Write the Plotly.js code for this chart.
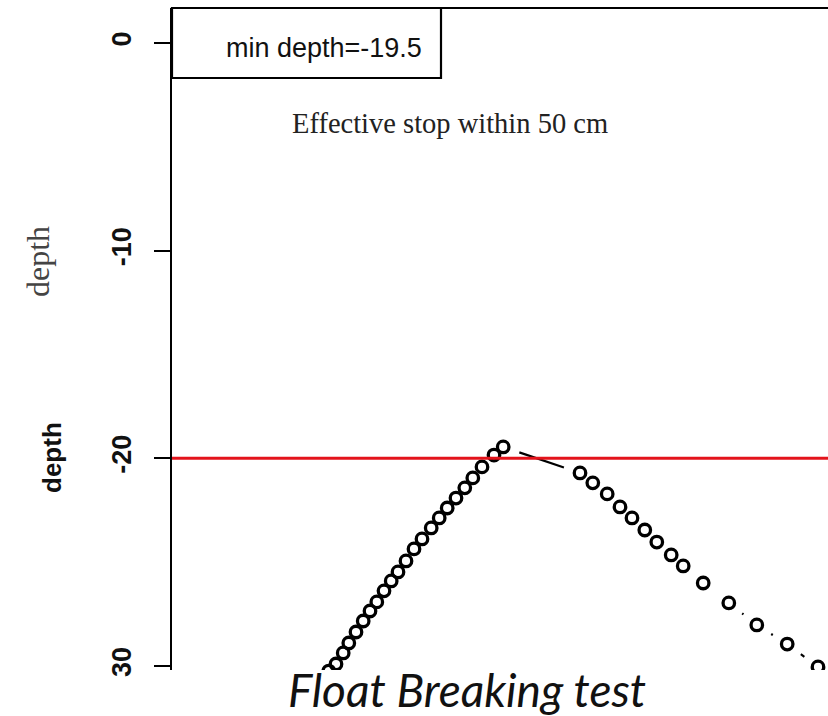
<!DOCTYPE html>
<html>
<head>
<meta charset="utf-8">
<script src="https://cdn.plot.ly/plotly-3.0.1.min.js"></script>
<style>
  html, body { margin: 0; padding: 0; background: #fff; overflow: hidden; }
  #chart { width: 828px; height: 716px; }
</style>
</head>
<body>
<div id="chart"></div>
<script>
// ---- data ----
const timeStep = [19.6, 20.5, 21.4, 22.1, 23.0, 23.9, 24.75, 25.6, 26.5, 27.4, 28.25, 29.25,
                  30.25, 31.25, 32.4, 33.4, 34.4, 35.5, 36.6, 37.6, 38.75, 40.25, 41.4,
                  51.0, 52.6, 54.4, 56.0, 57.5, 59.1, 60.6, 62.4, 63.9, 66.4, 69.6, 73.1, 76.9, 80.75];
const depth = [-30.24, -29.9, -29.37, -28.89, -28.36, -27.83, -27.35, -26.91, -26.38, -25.9, -25.47, -24.94,
               -24.36, -23.88, -23.35, -22.87, -22.39, -21.91, -21.42, -20.94, -20.41, -19.84, -19.45,
               -20.7, -21.18, -21.71, -22.34, -22.87, -23.45, -24.03, -24.65, -25.18, -26.0, -26.96, -28.02, -28.94, -30.04];
const stopDepth = -20;
const minDepth = -19.5;
const yTickVals = [0, -10, -20, -30];
const yTickText = ['0', '-10', '-20', '30'];
const titleText = 'Float Breaking test';
const legendText = 'min depth=' + minDepth;
const noteText = 'Effective stop within 50 cm';
const yLabel = 'depth';

// ---- layout geometry ----
const W = 828, H = 716;
const M = {l: 172, r: 0, t: 8, b: 46};
const xRange = [0, 82];
const yRange = [-30.19, 1.685];
const PW = W - M.l - M.r, PH = H - M.t - M.b;
const kx = PW / (xRange[1] - xRange[0]);
const ky = PH / (yRange[1] - yRange[0]);

// R type="b" style: connecting segments with a gap around each point
const gapPx = 17;
const segX = [], segY = [];
for (let i = 0; i < timeStep.length - 1; i++) {
  const dxp = (timeStep[i + 1] - timeStep[i]) * kx;
  const dyp = (depth[i + 1] - depth[i]) * ky;
  const d = Math.hypot(dxp, dyp);
  if (d > 2 * gapPx) {
    const f = gapPx / d;
    const ddx = timeStep[i + 1] - timeStep[i], ddy = depth[i + 1] - depth[i];
    segX.push(timeStep[i] + f * ddx, timeStep[i + 1] - f * ddx, null);
    segY.push(depth[i] + f * ddy, depth[i + 1] - f * ddy, null);
  }
}

const traces = [
  {
    x: segX, y: segY, type: 'scatter', mode: 'lines',
    line: {color: '#000', width: 2.2}, hoverinfo: 'skip', showlegend: false
  },
  {
    x: timeStep, y: depth, type: 'scatter', mode: 'markers',
    marker: {symbol: 'circle-open', size: 11.5, color: '#000', line: {width: 3.3, color: '#000'}},
    showlegend: false
  }
];

const boxRight = (441 - M.l) / PW;
const boxBottom = 1 - (78 - M.t) / PH;

const layout = {
  width: W, height: H,
  margin: M,
  paper_bgcolor: '#fff', plot_bgcolor: '#fff',
  showlegend: false,
  title: {
    text: titleText,
    font: {family: 'Lato, "Open Sans", sans-serif', size: 46, color: '#111', style: 'italic'},
    x: 467 / W, xanchor: 'center', xref: 'container',
    y: 1 - 691 / H, yanchor: 'middle', yref: 'container'
  },
  xaxis: {
    range: xRange, visible: false, showgrid: false, zeroline: false, fixedrange: true
  },
  yaxis: {
    range: yRange, showgrid: false, zeroline: false, fixedrange: true,
    showline: true, linecolor: '#000', linewidth: 2.2,
    ticks: 'outside', ticklen: 16, tickwidth: 2.2, tickcolor: '#000',
    tickvals: yTickVals, ticktext: yTickText, tickangle: -90,
    ticklabelstandoff: 12,
    tickfont: {family: '"Liberation Sans", Arial, sans-serif', size: 27, color: '#111', weight: 'bold'}
  },
  shapes: [
    {type: 'line', xref: 'paper', yref: 'paper', x0: 0, x1: 1, y0: 1, y1: 1,
     line: {color: '#000', width: 2.2}},
    {type: 'line', xref: 'paper', yref: 'y', x0: 0, x1: 1, y0: stopDepth, y1: stopDepth,
     line: {color: '#e3131b', width: 3}},
    {type: 'rect', xref: 'paper', yref: 'paper', x0: 0, x1: boxRight, y0: boxBottom, y1: 1,
     line: {color: '#000', width: 2.2}, fillcolor: 'rgba(0,0,0,0)'}
  ],
  annotations: [
    {text: legendText, xref: 'paper', yref: 'paper',
     x: (224 - M.l) / PW, xanchor: 'left', y: 1 - (48 - M.t) / PH, yanchor: 'middle',
     showarrow: false,
     font: {family: '"Liberation Sans", Arial, sans-serif', size: 27, color: '#111'}},
    {text: noteText, xref: 'paper', yref: 'paper',
     x: (450 - M.l) / PW, xanchor: 'center', y: 1 - (124 - M.t) / PH, yanchor: 'middle',
     showarrow: false,
     font: {family: '"Liberation Serif", "Times New Roman", serif', size: 28.5, color: '#222'}},
    {text: yLabel, xref: 'paper', yref: 'paper',
     x: -(M.l - 38) / PW, xanchor: 'center', y: 1 - (262 - M.t) / PH, yanchor: 'middle',
     textangle: -90, showarrow: false,
     font: {family: '"Liberation Serif", "Times New Roman", serif', size: 32, color: '#444'}},
    {text: yLabel, xref: 'paper', yref: 'paper',
     x: -(M.l - 52) / PW, xanchor: 'center', y: 1 - (458 - M.t) / PH, yanchor: 'middle',
     textangle: -90, showarrow: false,
     font: {family: '"Liberation Sans", Arial, sans-serif', size: 26, color: '#111', weight: 'bold'}}
  ]
};

Plotly.newPlot('chart', traces, layout, {staticPlot: true, displayModeBar: false});
</script>
</body>
</html>
